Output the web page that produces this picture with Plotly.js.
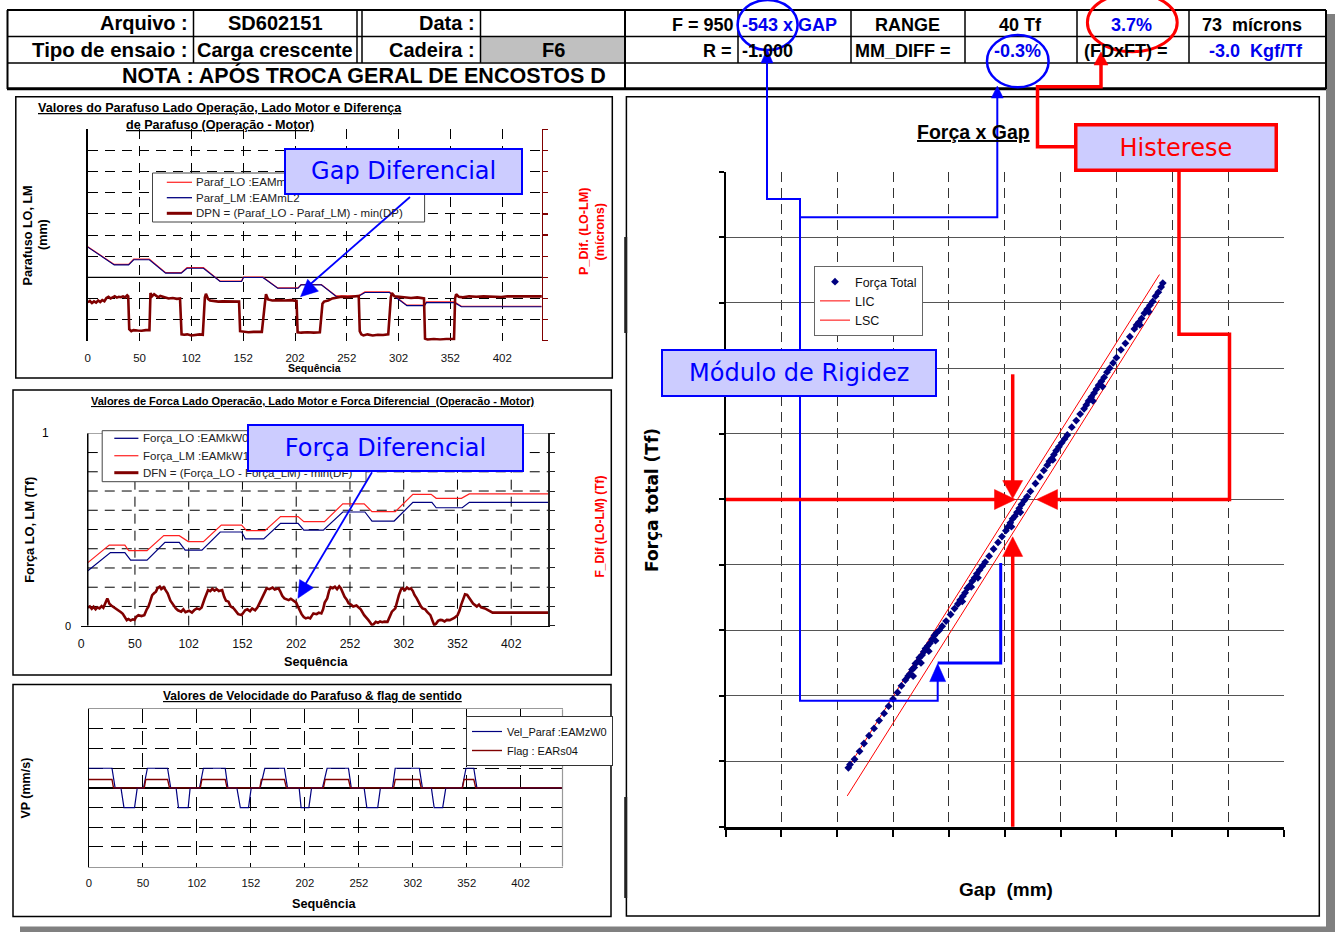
<!DOCTYPE html>
<html><head><meta charset="utf-8">
<script src="https://cdn.plot.ly/plotly-3.0.1.min.js"></script>
<style>html,body{margin:0;padding:0;background:#fff;}#chart{width:1335px;height:932px;}</style>
</head><body><div id="chart"></div>
<script>
// ---------------- DATA ----------------
const seqTickVals = [0, 50, 100, 150, 200, 250, 300, 350, 400];
const seqTickText = ['0', '50', '102', '152', '202', '252', '302', '352', '402'];

// Chart 1 : Parafuso LO / LM (grid units) and DPN
const parafX  = [0, 25.5, 39.4, 44.3, 59.4, 75.1, 90.2, 95.8, 111.6, 127.7, 148.4, 150.3, 169, 183.3, 202.9, 205.9, 225.4, 239.7, 261.1, 267.5, 291.1, 308, 325, 326.8, 353.9, 360.6, 438];
const parafLM = [4.43, 3.59, 3.59, 3.83, 3.83, 3.2, 3.2, 3.43, 3.43, 2.8, 2.8, 2.99, 2.99, 2.48, 2.48, 2.64, 2.64, 2.09, 2.09, 2.28, 2.28, 1.66, 1.66, 1.8, 1.8, 1.61, 1.61];
const parafLO = [4.45, 3.61, 3.61, 3.86, 3.86, 3.22, 3.22, 3.46, 3.46, 2.82, 2.82, 3.01, 3.01, 2.5, 2.5, 2.66, 2.66, 2.12, 2.12, 2.31, 2.31, 1.68, 1.68, 1.84, 1.84, 1.63, 1.63];
const dpnX = [0,2,4,6,8,10,12,14,16,18, 20,22,24,26,28,30,32,34,36,38, 39,40,42,44,48,52,56,58,59.5,
  60.5,62,64,66,68,70,74,78,82,86,89, 90.5,93,96,100,104,108,111,
  113,114,116,118,122,126,130,136,142,146, 147,150,155,160,165,168,
  171,172,174,178,184,190,196,200,201.5, 202.5,206,212,218,224,
  226.5,228,232,236,240,245,250,255,260,261.5, 262.5,264,266,270,275,280,285,290,
  292.5,293.5,296,300,306,312,318,323,324.5, 325.5,328,334,340,346,352,353.5,
  354.5,355.5,358,362,368,375,382,390,395,399,405,415,425,438.3];
const dpnY = [1.82,1.88,1.78,1.86,1.8,1.9,1.83,1.92,1.87,2.02, 2.08,2.0,2.05,2.1,2.04,2.08,2.06,2.1,2.05,2.15, 2.1,0.55,0.45,0.5,0.48,0.47,0.5,0.48,0.5,
  2.25,2.1,2.2,2.1,2.05,2.12,2.05,2.0,2.02,1.98,2.0, 0.3,0.28,0.3,0.25,0.28,0.3,0.28,
  2.05,2.22,1.98,1.9,1.87,1.85,1.86,1.85,1.86,1.85, 0.45,0.42,0.4,0.42,0.4,0.42,
  1.8,2.2,1.95,1.9,1.92,1.9,1.92,1.9,1.88, 0.4,0.38,0.4,0.38,0.4,
  1.75,1.85,1.9,2.0,2.05,2.08,2.06,2.08,2.1,2.12, 0.45,0.3,0.25,0.3,0.25,0.28,0.27,0.3,
  2.05,2.25,2.1,2.08,2.05,2.02,2.05,2.03,2.0, 0.1,0.05,0.08,0.06,0.08,0.07,0.08,
  2.0,2.2,2.08,2.05,2.1,2.08,2.1,2.08,2.1,2.07,2.1,2.1,2.1,2.1];

// Chart 2 : Força LO / LM and DFN
const forcaLMX = [6.2, 26.1, 40.6, 44.2, 61.2, 76.8, 91.2, 99.6, 113.7, 130.3, 149.2, 153.9, 170.9, 185.4, 201.7, 207.1, 226.3, 243.3, 263.2, 270.5, 292.2, 308.5, 325.5, 330.2, 353.7, 361, 434.3];
const forcaLM  = [3.28, 4.19, 4.19, 3.9, 3.9, 4.68, 4.68, 4.37, 4.37, 5.23, 5.23, 4.94, 4.94, 5.67, 5.67, 5.41, 5.41, 6.33, 6.33, 5.93, 5.93, 6.83, 6.83, 6.62, 6.62, 6.85, 6.85];
const forcaLOX = [6.2, 27.2, 40.6, 46, 61.2, 77.9, 91.2, 96.7, 112.3, 129.3, 149.2, 152.8, 169.8, 185.4, 201.7, 207.1, 225.2, 243.3, 263.9, 270.5, 291.1, 308.5, 326.2, 330.2, 354.4, 361, 434.3];
const forcaLO  = [2.86, 3.8, 3.8, 3.41, 3.41, 4.33, 4.33, 3.93, 3.93, 4.87, 4.87, 4.51, 4.51, 5.32, 5.32, 4.97, 4.97, 5.91, 5.91, 5.44, 5.44, 6.41, 6.41, 6.13, 6.13, 6.41, 6.41];
const dfnX = [6.2,8,9.8,11.5,13.4,15,17,19,20.6,22.4, 24.3,25.2,26.1,28,29.7,32,35.1,37,38.7,40.5,
  42.4,44,46,48,49.6,51,53.2,56,58.7,61, 62.5,64.1,66,68,69.5,71,73.1,74.5,76.8,78.5,
  80.4,83,85.8,88,90,93,95,97,100.3,103, 105,107.5,110,112,114.8,116.5,118,120,122,124,
  126,128,131.1,133,134.7,137,139,141.9,144,146, 149.2,151,152.5,154.6,157,159,161.8,164,166,169.1,
  171,172.5,175,178,180,183.6,185,187,189,191, 193,195,198,200,202,203.5,205,207,208.9,211,
  213,214.3,216,219,221,223.4,225,226.5,228.8,230.5, 232,234,236,238,240,241.5,243.3,245,247,248.7,
  251,253,256,258,260,263.2,265,267,269,270.5, 272,274,276,278,280,282,284.9,287,289,292.2,
  294,295.5,297.6,299,301,303,305,306.7,308.5,310, 312.1,314,316,317.5,320,322,324.8,326.5,328.4,330,
  332,334,335.6,338,340,342.9,345,347,350.1,352, 353.5,355.5,357,359,361,363,364.5,366.4,368,370,
  372,375.5,378,380,382.7,400,434.3];
const dfnY = [0.94,1.0,0.88,0.98,0.85,0.95,0.9,1.02,0.93,1.2, 1.42,1.3,1.15,1.05,0.99,0.92,0.81,0.7,0.62,0.45,
  0.29,0.35,0.27,0.33,0.3,0.45,0.55,0.5,0.55,0.85, 0.99,1.25,1.59,1.7,1.77,1.95,2.03,1.9,2.0,1.85,
  1.68,1.3,1.07,0.9,0.8,0.73,0.85,0.7,0.78,0.68, 0.8,0.9,0.85,0.95,1.4,1.7,1.85,1.8,1.92,1.82,
  1.9,1.8,1.85,1.5,1.3,1.25,1.0,0.9,0.75,0.6, 0.55,0.7,0.8,0.85,0.75,0.9,0.8,0.95,1.2,1.59,
  1.8,1.94,1.9,1.98,1.88,1.94,1.8,1.55,1.42,1.38, 1.33,1.4,1.25,1.2,0.95,0.73,0.6,0.45,0.38,0.42,
  0.38,0.5,0.64,0.6,0.68,0.64,0.85,1.2,1.42,1.8, 2.0,1.95,2.03,1.9,2.05,1.95,1.68,1.5,1.35,1.16,
  1.1,1.0,1.05,0.95,0.85,0.55,0.45,0.3,0.15,0.03, 0.08,0.2,0.15,0.22,0.18,0.21,0.2,0.45,0.73,0.9,
  1.3,1.59,1.9,1.94,1.85,1.98,1.9,1.94,1.8,1.6, 1.42,1.2,1.0,0.9,0.85,0.7,0.55,0.3,0.03,0.1,
  0.25,0.3,0.29,0.22,0.3,0.29,0.35,0.4,0.55,0.8, 1.1,1.45,1.63,1.6,1.42,1.3,1.15,1.07,1.0,1.1,
  0.95,0.9,0.82,0.75,0.68,0.68,0.68];

// Chart 3 : velocidade do parafuso and flag
const velX = [0, 21.3, 24.2, 29.6, 32.4, 42.2, 44.7, 50.5, 54.1, 72.8, 75.7, 80.7, 82.9, 91.9, 93.7, 102.4, 106, 126.2, 128.7, 137, 140.2, 147.8, 150.3, 158.6, 162.9, 181, 183.9, 194.7, 196.5, 203.7, 206.2, 216.3, 220.6, 240.4, 243, 254.9, 257.4, 267.5, 270, 281.2, 283.7, 306.1, 308.9, 317.2, 319.8, 327.7, 330.6, 345.7, 349.3, 356.5, 359.4, 438.7];
const velY = [1,1,0,0,-1,-1,0,0, 1,1,0,0,-1,-1,0,0, 1,1,0,0,-1,-1,0,0, 1,1,0,0,-1,-1,0,0, 1,1,0,0,-1,-1,0,0, 1,1,0,0,-1,-1,0,0, 1,1,0,0];
const flagX = [0, 21.3, 22.7, 51.2, 52.6, 72.8, 74.6, 103.1, 104.6, 126.2, 127.9, 158.3, 159.7, 181, 182.9, 217.2, 218.8, 240.4, 242.2, 282.2, 283.8, 306.1, 307.8, 346.1, 347.5, 356.5, 358.3, 438.7];
const flagY = [0.43,0.43,0,0,0.43,0.43,0,0,0.43,0.43,0,0,0.43,0.43,0,0,0.43,0.43,0,0,0.43,0.43,0,0,0.43,0.43,0,0];

// Chart 4 : Força x Gap (grid units)
const gapX = [2.20,2.23,2.31,2.40,2.48,2.57,2.66,2.75,2.84,2.92,3.00,3.08,3.15,
  3.22,3.27,3.30,3.34,3.38,3.40,3.44,3.47,3.52,3.55,3.58,3.62,3.66,3.70,3.74,3.78,3.83,3.88,3.36,3.50,3.64,3.76,
  3.95,4.03,4.10,
  4.16,4.20,4.25,4.29,4.33,4.37,4.42,4.46,4.50,4.55,4.60,4.65,4.24,4.40,4.52,
  4.72,4.80,4.88,4.95,
  5.02,5.06,5.10,5.14,5.18,5.22,5.26,5.30,5.35,5.40,5.46,5.12,5.28,
  5.55,5.63,5.70,
  5.76,5.80,5.84,5.88,5.92,5.97,6.02,6.07,6.12,5.86,
  6.20,6.28,6.35,
  6.42,6.46,6.50,6.55,6.60,6.64,6.68,6.73,6.78,6.83,6.88,6.94,7.00,6.58,6.75,
  7.08,7.16,7.24,
  7.32,7.36,7.40,7.45,7.50,7.55,7.60,7.65,7.70,7.75,7.80,7.83,7.42,7.58];
const forcaTotal = [0.90,0.95,1.03,1.15,1.27,1.39,1.50,1.62,1.73,1.84,1.95,2.05,2.15,
  2.24,2.30,2.33,2.40,2.43,2.49,2.52,2.58,2.62,2.67,2.72,2.76,2.80,2.86,2.92,2.96,3.00,3.06,2.30,2.50,2.68,2.84,
  3.14,3.24,3.33,
  3.40,3.46,3.52,3.57,3.64,3.68,3.75,3.80,3.86,3.92,3.98,4.04,3.44,3.66,3.80,
  4.13,4.24,4.34,4.43,
  4.52,4.58,4.64,4.70,4.74,4.80,4.86,4.92,4.98,5.04,5.12,4.58,4.80,
  5.24,5.34,5.44,
  5.52,5.58,5.62,5.68,5.74,5.80,5.86,5.92,5.98,5.60,
  6.10,6.20,6.30,
  6.38,6.44,6.50,6.56,6.62,6.68,6.74,6.80,6.86,6.94,7.00,7.08,7.16,6.50,6.72,
  7.28,7.38,7.48,
  7.60,7.66,7.70,7.76,7.84,7.90,7.96,8.02,8.10,8.16,8.24,8.30,7.66,7.86];
const licX = [2.18, 7.77], licY = [0.47, 8.04];
const lscX = [2.18, 7.77], lscY = [0.88, 8.43];

// ---------------- HELPERS ----------------
const W = 1335, H = 932;
const PX = x => x / W, PY = y => 1 - y / H;
const xd = (a, b) => [a / W, b / W];
const yd = (top, bot) => [1 - bot / H, 1 - top / H];
const FONT = 'Liberation Sans, Arial, sans-serif';
const VFONT = 'DejaVu Sans, Verdana, sans-serif';
const shapes = [], ann = [];
function rect(x0, y0, x1, y1, lc, lw, fill, layer) {
  shapes.push({type: 'rect', xref: 'paper', yref: 'paper', x0: PX(x0), x1: PX(x1), y0: PY(y1), y1: PY(y0),
    line: {color: lc || 'rgba(0,0,0,0)', width: lw || 0}, fillcolor: fill || 'rgba(0,0,0,0)', layer: layer || 'above'});
}
function seg(x0, y0, x1, y1, c, w, layer) {
  shapes.push({type: 'line', xref: 'paper', yref: 'paper', x0: PX(x0), y0: PY(y0), x1: PX(x1), y1: PY(y1),
    line: {color: c, width: w}, layer: layer || 'above'});
}
function poly(pts, c, w) {
  const p = pts.map((q, i) => (i ? 'L' : 'M') + PX(q[0]).toFixed(6) + ',' + PY(q[1]).toFixed(6)).join(' ');
  shapes.push({type: 'path', xref: 'paper', yref: 'paper', path: p, line: {color: c, width: w}, layer: 'above'});
}
function head(tx, ty, fx, fy, len, half, c) {
  const dx = tx - fx, dy = ty - fy, d = Math.hypot(dx, dy), ux = dx / d, uy = dy / d;
  const bx = tx - ux * len, by = ty - uy * len, nx = -uy, ny = ux;
  const pts = [[tx, ty], [bx + nx * half, by + ny * half], [bx - nx * half, by - ny * half]];
  const p = pts.map((q, i) => (i ? 'L' : 'M') + PX(q[0]).toFixed(6) + ',' + PY(q[1]).toFixed(6)).join(' ') + ' Z';
  shapes.push({type: 'path', xref: 'paper', yref: 'paper', path: p, line: {color: c, width: 0.5}, fillcolor: c, layer: 'above'});
}
function ell(x0, y0, x1, y1, c, w) {
  shapes.push({type: 'circle', xref: 'paper', yref: 'paper', x0: PX(x0), x1: PX(x1), y0: PY(y1), y1: PY(y0),
    line: {color: c, width: w}, fillcolor: 'rgba(0,0,0,0)', layer: 'above'});
}
function T(x, y, text, size, o) {
  o = o || {};
  ann.push({xref: 'paper', yref: 'paper', x: PX(x), y: PY(y), text: text, showarrow: false,
    xanchor: o.xa || 'center', yanchor: 'middle', textangle: o.angle || 0,
    font: {family: o.family || FONT, size: size, color: o.color || '#000'}});
}
function callout(x0, y0, x1, y1, text, c, bw) {
  ann.push({xref: 'paper', yref: 'paper', x: PX((x0 + x1) / 2), y: PY((y0 + y1) / 2), text: text, showarrow: false,
    xanchor: 'center', yanchor: 'middle', width: (x1 - x0) - 2 * bw, height: (y1 - y0) - 2 * bw,
    bgcolor: '#ccccff', bordercolor: c, borderwidth: bw, borderpad: 0, align: 'center', valign: 'middle',
    font: {family: VFONT, size: 24, color: c}});
}
const U = s => '<span style="text-decoration:underline">' + s + '</span>';
const NB = '\u00A0';

// ---------------- PANELS ----------------
rect(15.8, 96.7, 612.3, 378, '#000', 1.5, '#fff', 'below');
rect(13, 390, 611.3, 675, '#000', 1.5, '#fff', 'below');
rect(13, 684.5, 611, 916.5, '#000', 1.5, '#fff', 'below');
rect(626.4, 96.7, 1319.3, 916, '#000', 1.5, '#fff', 'below');
rect(20, 926.5, 1335, 932, null, 0, '#808080', 'below');
rect(1326, 14, 1335, 932, null, 0, '#808080', 'below');
seg(625.7, 237, 625.7, 333, '#222', 3);
seg(625.7, 797, 625.7, 898, '#222', 3);

// ---------------- HEADER TABLE ----------------
rect(481, 37, 624, 62.3, null, 0, '#c0c0c0');
seg(7, 10, 1326, 10, '#000', 2);
seg(7, 36.5, 1326, 36.5, '#000', 1.5);
seg(7, 63, 1326, 63, '#000', 1.5);
seg(7, 88.8, 1326, 88.8, '#000', 3);
seg(7.5, 10, 7.5, 89, '#000', 2);
[193.5, 357, 362, 480.5, 738, 851, 965, 1077, 1189].forEach(x => seg(x, 10, x, 63, '#000', 1.5));
seg(625, 10, 625, 89, '#000', 2);
seg(1326, 10, 1326, 89, '#000', 2);

T(190, 23, '<b>Arquivo :</b>', 20, {xa: 'right'});
T(275, 23, '<b>SD602151</b>', 20);
T(477, 23, '<b>Data :</b>', 20, {xa: 'right'});
T(190, 49.5, '<b>Tipo de ensaio :</b>', 20.5, {xa: 'right'});
T(195, 49.5, '<b>Carga crescente</b>', 20, {xa: 'left'});
T(477, 49.5, '<b>Cadeira :</b>', 20, {xa: 'right'});
T(553, 49.5, '<b>F6</b>', 20);
T(120, 76, '<b>NOTA : APÓS TROCA GERAL DE ENCOSTOS D</b>', 21.5, {xa: 'left'});

const BL = '#0000ee';
T(736, 24.5, '<b>F = 950</b>', 18, {xa: 'right'});
T(739.5, 24.5, '<b>-543 x GAP</b>', 18, {xa: 'left', color: BL});
T(907, 24.5, '<b>RANGE</b>', 18);
T(1020, 24.5, '<b>40 Tf</b>', 18);
T(1131, 24.5, '<b>3.7%</b>', 18, {color: BL});
T(1252, 24.5, '<b>73' + NB + NB + 'mícrons</b>', 18);
T(734, 50.5, '<b>R =</b>', 18, {xa: 'right'});
T(739.5, 50.5, '<b>-1.000</b>', 18, {xa: 'left'});
T(903, 50.5, '<b>MM_DIFF =</b>', 18);
T(1018, 50.5, '<b>-0.3%</b>', 18, {color: BL});
T(1126, 50.5, '<b>(FDxFT) =</b>', 18);
T(1256, 50.5, '<b>-3.0' + NB + NB + 'Kgf/Tf</b>', 18, {color: BL});

// ---------------- CHART TEXTS ----------------
T(220, 107.7, '<b>' + U('Valores do Parafuso Lado Operação, Lado Motor e Diferença') + '</b>', 12.6);
T(220, 125, '<b>' + U('de Parafuso (Operação - Motor)') + '</b>', 12.6);
T(27.5, 235, '<b>Parafuso LO, LM</b>', 12.6, {angle: -90});
T(43, 235, '<b>(mm)</b>', 12.6, {angle: -90});
T(584, 232, '<b>P_Dif. (LO-LM)</b>', 12.6, {angle: -90, color: '#ff0000'});
T(599.5, 232, '<b>(mícrons)</b>', 12.6, {angle: -90, color: '#ff0000'});
T(314, 368.3, '<b>Sequência</b>', 10.5);

T(312, 400.7, '<b>' + U('Valores de Forca Lado Operacão, Lado Motor e Forca Diferencial' + NB + NB + '(Operacão - Motor)') + '</b>', 11);
T(28.7, 530, '<b>Força LO, LM (Tf)</b>', 12.8, {angle: -90});
T(599.5, 527, '<b>F_Dif (LO-LM) (Tf)</b>', 12, {angle: -90, color: '#ff0000'});
T(316, 662.3, '<b>Sequência</b>', 12.7);
T(45.8, 433, '1', 12);
T(68.4, 625.7, '0', 11);

T(312, 695.7, '<b>' + U('Valores de Velocidade do Parafuso &amp; flag de sentido') + '</b>', 12);
T(25.6, 788, '<b>VP (mm/s)</b>', 12.5, {angle: -90});
T(324, 904, '<b>Sequência</b>', 12.7);

T(973, 132.3, '<b>' + U('Força x Gap') + '</b>', 19.5);
T(652, 500, '<b>Força total (Tf)</b>', 17, {angle: -90, family: VFONT});
T(1005.5, 889.5, '<b>Gap' + NB + NB + '(mm)</b>', 19);

// Chart 2 grid (axis starts slightly right of sequence 0)
const f2AxisStart = 6.1, f2End = 434.3;
[1, 2, 3, 4, 5, 6, 7, 8, 9].forEach(v => shapes.push({type: 'line', xref: 'x2', yref: 'y3', x0: f2AxisStart, x1: f2End, y0: v, y1: v,
  line: {color: '#000', width: 1, dash: '10px,7px'}, layer: 'below'}));
seqTickVals.slice(1).forEach(v => shapes.push({type: 'line', xref: 'x2', yref: 'y3', x0: v, x1: v, y0: 0, y1: 10,
  line: {color: '#000', width: 1, dash: '10px,7px'}, layer: 'below'}));
shapes.push({type: 'line', xref: 'x2', yref: 'y3', x0: f2AxisStart, x1: f2End, y0: 10, y1: 10, line: {color: '#888', width: 1.2}, layer: 'below'});
shapes.push({type: 'line', xref: 'x2', yref: 'y3', x0: f2AxisStart, x1: f2AxisStart, y0: 0, y1: 10, line: {color: '#000', width: 1.5}, layer: 'above'});
// Chart 1 solid reference line
shapes.push({type: 'line', xref: 'x domain', yref: 'y', x0: 0, x1: 1, y0: 3, y1: 3, line: {color: '#000', width: 1.2}, layer: 'below'});
// Chart 3 right frame
shapes.push({type: 'line', xref: 'x3 domain', yref: 'y5 domain', x0: 1, x1: 1, y0: 0, y1: 1, line: {color: '#999', width: 1.2}, layer: 'above'});

// manual legends charts 1 & 2
rect(152.5, 173, 424.6, 222, '#444', 1, '#fff');
seg(166.8, 182.3, 192, 182.3, '#ff3030', 1.3);
seg(166.8, 197.7, 192, 197.7, '#000080', 1.3);
seg(166.8, 213.3, 192, 213.3, '#800000', 3);
T(193.7, 182.3, 'Paraf_LO :EAMmL1', 11.5, {xa: 'left', color: '#222'});
T(193.7, 197.7, 'Paraf_LM :EAMmL2', 11.5, {xa: 'left', color: '#222'});
T(193.7, 213.3, 'DPN = (Paraf_LO - Paraf_LM) - min(DP)', 11.5, {xa: 'left', color: '#222'});
rect(102.2, 430.7, 366, 481.7, '#444', 1, '#fff');
seg(114.3, 438.3, 138.4, 438.3, '#000080', 1.3);
seg(114.3, 455.7, 138.4, 455.7, '#ff3030', 1.3);
seg(114.3, 472.7, 138.4, 472.7, '#800000', 3);
T(140.7, 438.3, 'Força_LO :EAMkW0', 11.5, {xa: 'left', color: '#222'});
T(140.7, 455.7, 'Força_LM :EAMkW1', 11.5, {xa: 'left', color: '#222'});
T(140.7, 472.7, 'DFN = (Força_LO - Força_LM) - min(DF)', 11.5, {xa: 'left', color: '#222'});

// ---------------- OVERLAY ANNOTATION GRAPHICS ----------------
const BLU = '#0000ff', RED = '#ff0000';
ell(737.6, 0, 797.6, 50, BLU, 2.5);
ell(987, 35, 1048.6, 87.3, BLU, 2.5);
ell(1087.4, -6.7, 1177.2, 51.7, RED, 3);
poly([[767, 62], [767, 199], [800, 199], [800, 700.7], [937.7, 700.7], [937.7, 680]], BLU, 2);
head(767, 49, 767, 70, 14, 6, BLU);
head(937.7, 663.6, 937.7, 700, 18, 8, BLU);
poly([[997.3, 97], [997.3, 217.3], [800, 217.3]], BLU, 2);
head(997.3, 86, 997.3, 100, 12, 6, BLU);
poly([[937.7, 662.9], [1000.7, 662.9], [1000.7, 563]], BLU, 3);
poly([[1101, 64], [1101, 86.7], [1037.5, 86.7], [1037.5, 146.7], [1075, 146.7]], RED, 3.5);
head(1101, 52, 1101, 70, 13, 7, RED);
poly([[1179, 172], [1179, 334.3], [1229.5, 334.3], [1229.5, 499.5], [1056, 499.5]], RED, 3.5);
head(1036.5, 499.5, 1060, 499.5, 21, 10, RED);
poly([[726, 499.5], [995, 499.5]], RED, 3.5);
head(1015.5, 499.5, 990, 499.5, 21, 10, RED);
poly([[1012.7, 374.3], [1012.7, 482]], RED, 3.5);
head(1012.7, 498.6, 1012.7, 470, 18, 10, RED);
poly([[1012.7, 826.7], [1012.7, 555]], RED, 3.5);
head(1012.7, 536.8, 1012.7, 570, 19.6, 10, RED);
poly([[410, 197], [306, 288]], BLU, 1.8);
head(300.5, 296.7, 410, 197, 17, 8, BLU);
poly([[372, 472.3], [302, 590]], BLU, 1.8);
head(297.9, 598.3, 372, 472.3, 17, 8, BLU);

callout(284.3, 148.3, 523.6, 195, 'Gap Diferencial', BLU, 2);
callout(246.6, 424.3, 523.6, 472.3, 'Força Diferencial', BLU, 2);
callout(661.2, 349, 937.5, 396.7, 'Módulo de Rigidez', BLU, 2);
callout(1074.3, 122.3, 1278, 171.7, 'Histerese', RED, 3.5);

// ---------------- TRACES ----------------
const traces = [
  {x: parafX, y: parafLO, xaxis: 'x', yaxis: 'y', mode: 'lines', line: {color: '#ff2020', width: 1.2}, showlegend: false, name: 'Paraf_LO :EAMmL1'},
  {x: parafX, y: parafLM, xaxis: 'x', yaxis: 'y', mode: 'lines', line: {color: '#000080', width: 1.1}, showlegend: false, name: 'Paraf_LM :EAMmL2'},
  {x: dpnX, y: dpnY, xaxis: 'x', yaxis: 'y2', mode: 'lines', line: {color: '#800000', width: 2.6}, showlegend: false, name: 'DPN'},
  {x: forcaLOX, y: forcaLO, xaxis: 'x2', yaxis: 'y3', mode: 'lines', line: {color: '#000080', width: 1.2}, showlegend: false, name: 'Força_LO :EAMkW0'},
  {x: forcaLMX, y: forcaLM, xaxis: 'x2', yaxis: 'y3', mode: 'lines', line: {color: '#ff2020', width: 1.2}, showlegend: false, name: 'Força_LM :EAMkW1'},
  {x: dfnX, y: dfnY, xaxis: 'x2', yaxis: 'y4', mode: 'lines', line: {color: '#800000', width: 2.6}, showlegend: false, name: 'DFN'},
  {x: velX, y: velY, xaxis: 'x3', yaxis: 'y5', mode: 'lines', line: {color: '#000080', width: 1.2}, name: 'Vel_Paraf :EAMzW0', legend: 'legend2'},
  {x: flagX, y: flagY, xaxis: 'x3', yaxis: 'y5', mode: 'lines', line: {color: '#800000', width: 1.4}, name: 'Flag : EARs04', legend: 'legend2'},
  {x: licX, y: licY, xaxis: 'x4', yaxis: 'y6', mode: 'lines', line: {color: '#ff0000', width: 1}, name: 'LIC', legendrank: 2},
  {x: lscX, y: lscY, xaxis: 'x4', yaxis: 'y6', mode: 'lines', line: {color: '#ff0000', width: 1}, name: 'LSC', legendrank: 3},
  {x: gapX, y: forcaTotal, xaxis: 'x4', yaxis: 'y6', mode: 'markers', marker: {symbol: 'diamond', size: 6, color: '#000080'}, name: 'Força Total', legendrank: 1}
];

const gridDash = '10px,7px';
const tickF = {family: FONT, size: 11.5, color: '#111'};
const seqAxis = (dom, anchor, range) => ({domain: dom, anchor: anchor, range: range, tickmode: 'array', tickvals: seqTickVals, ticktext: seqTickText,
  showgrid: true, gridcolor: '#000', griddash: gridDash, gridwidth: 1, zeroline: false, showline: false, ticks: '', tickfont: tickF, ticklabelstandoff: 6});

const layout = {
  width: W, height: H, margin: {l: 0, r: 0, t: 0, b: 0, pad: 0},
  paper_bgcolor: '#ffffff', plot_bgcolor: 'rgba(0,0,0,0)', font: {family: FONT, color: '#000'},
  xaxis: Object.assign(seqAxis(xd(87.8, 541.9), 'y', [0, 438.3]), {ticklabelstandoff: 9}),
  yaxis: {domain: yd(129.4, 340.7), anchor: 'x', range: [0, 10], tickmode: 'linear', tick0: 0, dtick: 1, showgrid: true, gridcolor: '#000', griddash: gridDash,
    zeroline: false, showline: true, linecolor: '#000', linewidth: 1.5, showticklabels: false, ticks: ''},
  yaxis2: {overlaying: 'y', side: 'right', anchor: 'x', range: [0, 10], tickmode: 'linear', tick0: 0, dtick: 1, showgrid: false, zeroline: false,
    showline: true, linecolor: '#800000', linewidth: 1.5, ticks: 'outside', ticklen: 5, tickcolor: '#800000', tickwidth: 1.2, showticklabels: false},
  xaxis2: Object.assign(seqAxis(xd(81.2, 548.1), 'y3', [0, 434.3]), {showgrid: false, showline: true, linecolor: '#000', linewidth: 1.5, tickfont: {family: FONT, size: 12.3, color: '#111'}}),
  yaxis3: {domain: yd(433.3, 625.7), anchor: 'x2', range: [0, 10], showgrid: false, zeroline: false, showline: false, showticklabels: false, ticks: ''},
  yaxis4: {overlaying: 'y3', side: 'right', anchor: 'x2', range: [0, 10], tickmode: 'linear', tick0: 0, dtick: 1, showgrid: false, zeroline: false,
    showline: true, linecolor: '#222', linewidth: 1.5, ticks: 'outside', ticklen: 5, tickcolor: '#222', showticklabels: false},
  xaxis3: Object.assign(seqAxis(xd(89, 562.5), 'y5', [0, 438.7]), {griddash: '14px,8px', showline: true, mirror: true, linecolor: '#999', linewidth: 1.2, tickfont: {family: FONT, size: 11.3, color: '#111'}}),
  yaxis5: {domain: yd(709.3, 866.5), anchor: 'x3', range: [-4, 4], tickmode: 'linear', tick0: 0, dtick: 1, showgrid: true, gridcolor: '#000', griddash: '14px,8px',
    zeroline: true, zerolinecolor: '#000', zerolinewidth: 1.3, showline: true, linecolor: '#000', linewidth: 1.5, showticklabels: false, ticks: ''},
  xaxis4: {domain: xd(725.5, 1284), anchor: 'y6', range: [0, 10], tickmode: 'linear', tick0: 0, dtick: 1, showgrid: true, gridcolor: '#333', griddash: '10px,6px', gridwidth: 1,
    zeroline: false, showline: true, linecolor: '#000', linewidth: 3, ticks: 'outside', ticklen: 7, tickwidth: 2, tickcolor: '#000', showticklabels: false},
  yaxis6: {domain: yd(171.7, 826.7), anchor: 'x4', range: [0, 10], tickmode: 'linear', tick0: 0, dtick: 1, showgrid: true, gridcolor: '#555', gridwidth: 1,
    zeroline: false, showline: true, linecolor: '#000', linewidth: 2, ticks: 'outside', ticklen: 5, tickwidth: 2, tickcolor: '#000', showticklabels: false},
  showlegend: true,
  legend: {x: PX(814), y: PY(266), xanchor: 'left', yanchor: 'top', bgcolor: '#fff', bordercolor: '#666', borderwidth: 1,
    font: {family: FONT, size: 12.5, color: '#111'}, tracegroupgap: 0, traceorder: 'normal'},
  legend2: {x: PX(466), y: PY(716), xanchor: 'left', yanchor: 'top', bgcolor: '#fff', bordercolor: '#333', borderwidth: 1,
    font: {family: FONT, size: 11, color: '#111'}, tracegroupgap: 0},
  shapes: shapes,
  annotations: ann
};

Plotly.newPlot('chart', traces, layout, {displayModeBar: false, staticPlot: true});
</script></body></html>
